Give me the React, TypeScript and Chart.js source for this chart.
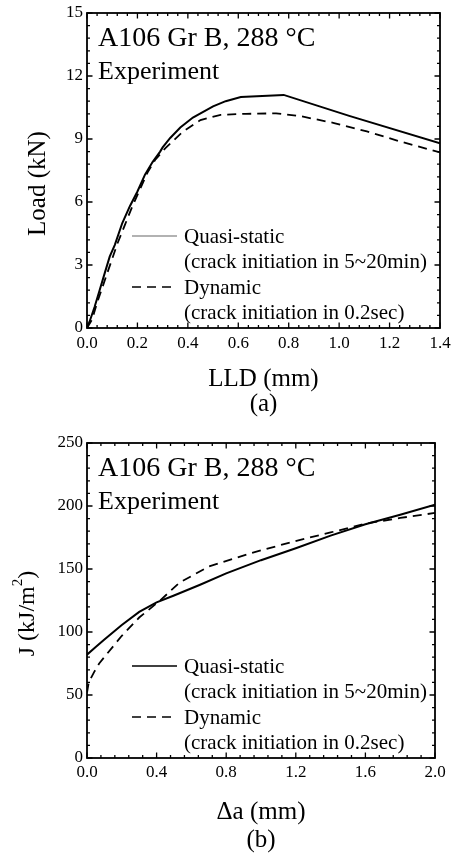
import React, { useEffect, useRef } from "react";
import { Chart, registerables } from "chart.js";

Chart.register(...registerables);

const FONT = "'Liberation Serif', 'Times New Roman', serif";

// ---- (a) Load vs LLD ----
const lldQuasi = [0, 0.01, 0.03, 0.05, 0.07, 0.09, 0.11, 0.14, 0.17, 0.2, 0.23, 0.26, 0.29, 0.3, 0.33, 0.37, 0.42, 0.5, 0.55, 0.61, 0.78, 1.04, 1.4];
const loadQuasi = [0, 0.3, 1.0, 1.8, 2.6, 3.4, 3.95, 5.0, 5.8, 6.5, 7.3, 7.9, 8.4, 8.6, 9.05, 9.55, 10.02, 10.55, 10.8, 11.0, 11.1, 10.1, 8.8];
const lldDynamic = [0, 0.02, 0.04, 0.06, 0.08, 0.1, 0.12, 0.15, 0.18, 0.21, 0.24, 0.27, 0.31, 0.38, 0.45, 0.53, 0.63, 0.75, 0.85, 0.98, 1.11, 1.24, 1.4];
const loadDynamic = [0, 0.4, 1.2, 1.9, 2.6, 3.3, 4.0, 4.9, 5.8, 6.6, 7.4, 8.0, 8.55, 9.35, 9.9, 10.15, 10.2, 10.22, 10.08, 9.76, 9.36, 8.89, 8.36];

// ---- (b) J vs Δa ----
const daQuasi = [0, 0.05, 0.1, 0.2, 0.3, 0.4, 0.5, 0.65, 0.8, 1.0, 1.2, 1.4, 1.6, 1.8, 2.0];
const jQuasi = [82, 88, 94, 105.5, 116, 123.5, 129, 137.5, 146.5, 157, 166.5, 176.5, 185.5, 193, 201];
const daDynamic = [0, 0.01, 0.04, 0.07, 0.12, 0.2, 0.3, 0.42, 0.53, 0.7, 0.94, 1.22, 1.4, 1.6, 1.8, 2.0];
const jDynamic = [52, 60, 68, 75, 83.5, 97, 111.5, 125, 139, 152, 162.5, 173, 179, 186, 190.5, 194.5];

const seriesLabels = ["Quasi-static", "Dynamic"];
const seriesNotes = ["(crack initiation in 5~20min)", "(crack initiation in 0.2sec)"];
const specimenText = "A106 Gr B, 288 °C";
const sourceText = "Experiment";

const framePlugin = {
  id: "frame",
  afterDraw(chart: any, _args: any, opts: any) {
    const { ctx, chartArea: a, scales } = chart;
    const xs = scales.x;
    const ys = scales.y;
    ctx.save();
    ctx.strokeStyle = "#000";
    ctx.lineWidth = 1.3;
    const nx = Math.round((xs.max - xs.min) / opts.xMinor);
    const kx = Math.round(opts.xMajor / opts.xMinor);
    for (let i = 0; i <= nx; i++) {
      const px = xs.getPixelForValue(xs.min + i * opts.xMinor);
      const len = i % kx === 0 ? 5.5 : 3;
      ctx.beginPath();
      ctx.moveTo(px, a.bottom);
      ctx.lineTo(px, a.bottom - len);
      ctx.moveTo(px, a.top);
      ctx.lineTo(px, a.top + len);
      ctx.stroke();
    }
    const ny = Math.round((ys.max - ys.min) / opts.yMinor);
    const ky = Math.round(opts.yMajor / opts.yMinor);
    for (let i = 0; i <= ny; i++) {
      const py = ys.getPixelForValue(ys.min + i * opts.yMinor);
      const len = i % ky === 0 ? 5.5 : 3;
      ctx.beginPath();
      ctx.moveTo(a.left, py);
      ctx.lineTo(a.left + len, py);
      ctx.moveTo(a.right, py);
      ctx.lineTo(a.right - len, py);
      ctx.stroke();
    }
    ctx.lineWidth = 1.8;
    ctx.strokeRect(a.left, a.top, a.right - a.left, a.bottom - a.top);
    ctx.restore();
  },
};

const notesPlugin = {
  id: "notes",
  afterDraw(chart: any, _args: any, opts: any) {
    const { ctx, chartArea: a } = chart;
    ctx.save();
    ctx.fillStyle = "#000";
    ctx.textBaseline = "middle";
    ctx.textAlign = "left";
    ctx.font = `28px ${FONT}`;
    ctx.fillText(specimenText, a.left + 11, a.top + 26);
    ctx.font = `26px ${FONT}`;
    ctx.fillText(sourceText, a.left + 11, a.top + 59);

    // rotated y-axis title (with optional superscript part)
    const parts: any[] = opts.yTitle;
    ctx.save();
    ctx.translate(opts.yTitleX, (a.top + a.bottom) / 2 + 13);
    ctx.rotate(-Math.PI / 2);
    let total = 0;
    const widths = parts.map((p) => {
      ctx.font = `${p.size}px ${FONT}`;
      const w = ctx.measureText(p.text).width;
      total += w;
      return w;
    });
    let cx = -total / 2;
    parts.forEach((p, i) => {
      ctx.font = `${p.size}px ${FONT}`;
      ctx.fillText(p.text, cx, -(p.rise || 0));
      cx += widths[i];
    });
    ctx.restore();

    const ds = chart.data.datasets;
    const rows = [-92, -41];
    ctx.font = `21px ${FONT}`;
    ds.forEach((d: any, i: number) => {
      const y = a.bottom + rows[i];
      ctx.beginPath();
      ctx.strokeStyle = opts.legendColors[i];
      ctx.lineWidth = 1.6;
      ctx.setLineDash(d.borderDash || []);
      ctx.moveTo(a.left + 45, y);
      ctx.lineTo(a.left + 90, y);
      ctx.stroke();
      ctx.setLineDash([]);
      ctx.fillStyle = "#000";
      ctx.fillText(d.label, a.left + 97, y + 1);
      ctx.fillText(seriesNotes[i], a.left + 97, y + 26);
    });
    ctx.restore();
  },
};

function makeConfig(p: any) {
  return {
    type: "line",
    data: {
      datasets: [
        {
          label: seriesLabels[0],
          data: p.xq.map((x: number, i: number) => ({ x, y: p.yq[i] })),
          borderColor: "#000",
          borderWidth: 2,
          pointRadius: 0,
          fill: false,
          tension: 0,
        },
        {
          label: seriesLabels[1],
          data: p.xd.map((x: number, i: number) => ({ x, y: p.yd[i] })),
          borderColor: "#000",
          borderWidth: 1.8,
          borderDash: [9, 6],
          pointRadius: 0,
          fill: false,
          tension: 0,
        },
      ],
    },
    options: {
      animation: false,
      responsive: false,
      layout: { padding: { top: p.padTop, right: p.padRight, left: 0, bottom: 0 } },
      plugins: {
        legend: { display: false },
        tooltip: { enabled: false },
        frame: { xMinor: p.xMinor, xMajor: p.xMajor, yMinor: p.yMinor, yMajor: p.yMajor },
        notes: { legendColors: p.legendColors, yTitle: p.yTitle, yTitleX: p.yTitleX },
      },
      scales: {
        x: {
          type: "linear",
          min: p.xMin,
          max: p.xMax,
          afterFit: (s: any) => {
            s.height = p.xAxisHeight;
            s.paddingLeft = 0;
            s.paddingRight = 0;
          },
          grid: { display: false, drawTicks: false },
          border: { display: false },
          ticks: {
            stepSize: p.xMajor,
            autoSkip: false,
            maxRotation: 0,
            padding: p.xTickPad,
            color: "#000",
            font: { family: FONT, size: 17 },
            callback: (v: number) => v.toFixed(1),
          },
          title: {
            display: true,
            text: p.xTitle,
            color: "#000",
            font: { family: FONT, size: 25, lineHeight: p.xTitleLH },
            padding: { top: 0, bottom: p.xTitlePad },
          },
        },
        y: {
          type: "linear",
          min: p.yMin,
          max: p.yMax,
          afterFit: (s: any) => {
            s.width = 87;
            s.paddingTop = 0;
            s.paddingBottom = 0;
          },
          grid: { display: false, drawTicks: false },
          border: { display: false },
          ticks: {
            stepSize: p.yMajor,
            autoSkip: false,
            padding: 4,
            color: "#000",
            font: { family: FONT, size: 17 },
          },
          title: { display: false },
        },
      },
    },
    plugins: [framePlugin, notesPlugin],
  };
}

export default function App() {
  const topRef = useRef<HTMLCanvasElement | null>(null);
  const botRef = useRef<HTMLCanvasElement | null>(null);

  useEffect(() => {
    const c1 = new Chart(
      topRef.current as HTMLCanvasElement,
      makeConfig({
        xq: lldQuasi, yq: loadQuasi, xd: lldDynamic, yd: loadDynamic,
        xMin: 0, xMax: 1.4, xMajor: 0.2, xMinor: 0.04,
        yMin: 0, yMax: 15, yMajor: 3, yMinor: 0.6,
        padTop: 13, padRight: 11, xAxisHeight: 92,
        xTickPad: 5, xTitle: ["LLD (mm)", "(a)"], xTitleLH: 1.0, xTitlePad: 3,
        yTitle: [{ text: "Load (kN)", size: 25 }], yTitleX: 38,
        legendColors: ["#999", "#000"],
      }) as any
    );
    const c2 = new Chart(
      botRef.current as HTMLCanvasElement,
      makeConfig({
        xq: daQuasi, yq: jQuasi, xd: daDynamic, yd: jDynamic,
        xMin: 0, xMax: 2.0, xMajor: 0.4, xMinor: 0.08,
        yMin: 0, yMax: 250, yMajor: 50, yMinor: 10,
        padTop: 23, padRight: 16, xAxisHeight: 97,
        xTickPad: 4, xTitle: ["Δa (mm)", "(b)"], xTitleLH: 1.12, xTitlePad: 1,
        yTitle: [
          { text: "J (kJ/m", size: 24 },
          { text: "2", size: 15, rise: 10 },
          { text: ")", size: 24 },
        ],
        yTitleX: 28,
        legendColors: ["#000", "#000"],
      }) as any
    );
    return () => {
      c1.destroy();
      c2.destroy();
    };
  }, []);

  return (
    <div style={{ position: "absolute", left: 0, top: 0, width: 451, height: 855, background: "#fff" }}>
      <canvas ref={topRef} width={451} height={420} style={{ position: "absolute", left: 0, top: 0 }} />
      <canvas ref={botRef} width={451} height={435} style={{ position: "absolute", left: 0, top: 420 }} />
    </div>
  );
}
